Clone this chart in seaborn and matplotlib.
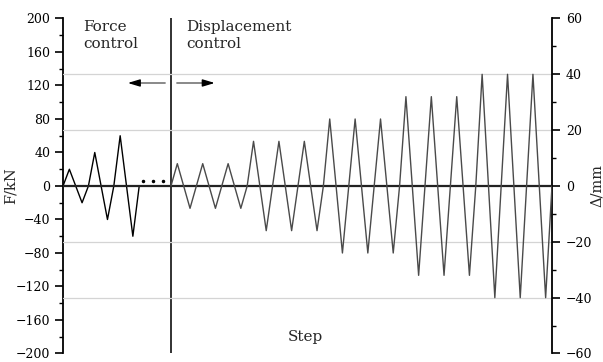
import numpy as np
import pandas as pd
import matplotlib
matplotlib.use("Agg")
import matplotlib.pyplot as plt
from matplotlib.ticker import MultipleLocator
import seaborn as sns

# Loading protocol: force-controlled cycles (kN) then displacement-controlled cycles (mm)
force_steps = list(range(0, 13))
force_kN = [0, 20, 0, -20, 0, 40, 0, -40, 0, 60, 0, -60, 0]

disp_steps = list(range(17, 78))
disp_mm = [0, 8, 0, -8, 0, 8, 0, -8, 0, 8, 0, -8,
           0, 16, 0, -16, 0, 16, 0, -16, 0, 16, 0, -16,
           0, 24, 0, -24, 0, 24, 0, -24, 0, 24, 0, -24,
           0, 32, 0, -32, 0, 32, 0, -32, 0, 32, 0, -32,
           0, 40, 0, -40, 0, 40, 0, -40, 0, 40, 0, -40,
           0]

left_ticks = [-200, -160, -120, -80, -40, 0, 40, 80, 120, 160, 200]
right_ticks = [-60, -40, -20, 0, 20, 40, 60]
grid_mm = [-40, -20, 20, 40]

force_df = pd.DataFrame({"step": force_steps, "F": force_kN})
disp_df = pd.DataFrame({"step": disp_steps, "D": disp_mm})

sns.set_theme(style="white")
plt.rcParams["font.family"] = ["DejaVu Serif"]

fig = plt.figure(figsize=(6.03, 3.62), dpi=100)
ax = fig.add_axes([0.1045, 0.0235, 0.8109, 0.9254])
ax2 = ax.twinx()

ax.set_xlim(0, 77)
ax.set_ylim(-200, 200)
ax2.set_ylim(-60, 60)

# light reference lines at +/-20 and +/-40 mm
for g in grid_mm:
    ax2.axhline(g, color="#d4d4d4", lw=0.9, zorder=0)

sns.lineplot(data=force_df, x="step", y="F", ax=ax, color="black", lw=1.0,
             estimator=None, sort=False, zorder=3)
sns.lineplot(data=disp_df, x="step", y="D", ax=ax2, color="#4a4a4a", lw=1.0,
             estimator=None, sort=False, zorder=3)

ax.axhline(0, color="#222222", lw=1.6, zorder=4)
ax.axvline(17, color="#222222", lw=1.3, zorder=4)

# dots bridging the two phases
ax.plot([12.55, 14.1, 15.7], [6, 6, 6], ls="none", marker="o", ms=1.5,
        color="black")

# arrows indicating each control phase: grey shafts, black heads
ax.plot([11.2, 16.0], [123, 123], color="#808080", lw=1.3)
ax.plot([17.9, 22.9], [123, 123], color="#808080", lw=1.3)
ax.annotate("", xy=(10.2, 123), xytext=(11.6, 123),
            arrowprops=dict(arrowstyle="-|>,head_length=0.6,head_width=0.18",
                            color="black", lw=1.0, shrinkA=0, shrinkB=0))
ax.annotate("", xy=(23.9, 123), xytext=(22.5, 123),
            arrowprops=dict(arrowstyle="-|>,head_length=0.6,head_width=0.18",
                            color="black", lw=1.0, shrinkA=0, shrinkB=0))

ax.text(3.2, 198, "Force\ncontrol", fontsize=11, va="top", ha="left",
        linespacing=1.3)
ax.text(19.4, 198, "Displacement\ncontrol", fontsize=11, va="top", ha="left",
        linespacing=1.3)
ax.text(38.1, -180, "Step", fontsize=11, ha="center", va="center")

for a in (ax, ax2):
    for s in ("top", "bottom"):
        a.spines[s].set_visible(False)
    a.set_xticks([])
    a.set_xlabel("")

ax.spines["right"].set_visible(False)
ax.spines["left"].set_color("black")
ax.spines["left"].set_linewidth(1.3)
ax2.spines["left"].set_visible(False)
ax2.spines["right"].set_color("black")
ax2.spines["right"].set_linewidth(1.3)

ax.set_yticks(left_ticks)
ax.set_yticklabels([str(t).replace("-", "\u2212") for t in left_ticks])
ax.yaxis.set_minor_locator(MultipleLocator(20))
ax2.set_yticks(right_ticks)
ax2.set_yticklabels([str(t).replace("-", "\u2212") for t in right_ticks])
ax2.yaxis.set_minor_locator(MultipleLocator(10))

ax.tick_params(axis="y", which="major", direction="out", length=6, width=1.2,
               labelsize=9, pad=3, left=True, right=False, colors="black")
ax.tick_params(axis="y", which="minor", direction="out", length=3, width=1.0,
               left=True, right=False, colors="black")
ax2.tick_params(axis="y", which="major", direction="out", length=6, width=1.2,
                labelsize=9, pad=4, right=True, left=False, colors="black")
ax2.tick_params(axis="y", which="minor", direction="out", length=3, width=1.0,
                right=True, left=False, colors="black")

ax.set_ylabel("F/kN", fontsize=10.5)
ax.yaxis.set_label_coords(-0.092, 0.5)
ax2.set_ylabel("\u0394/mm", fontsize=10.5, rotation=90)
ax2.yaxis.set_label_coords(1.078, 0.5)

fig.savefig("out.png", dpi=100)
